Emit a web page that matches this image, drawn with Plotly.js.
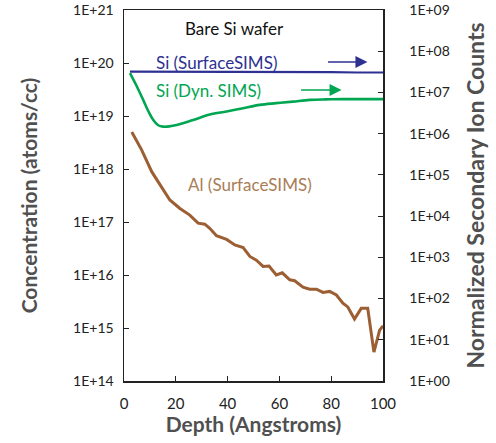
<!DOCTYPE html>
<html>
<head>
<meta charset="utf-8">
<script src="https://cdn.plot.ly/plotly-3.0.1.min.js"></script>
<style>html,body{margin:0;padding:0;background:#fff;}#chart{width:496px;height:443px;}</style>
</head>
<body>
<div id="chart"></div>
<script>
// Si (SurfaceSIMS) - right axis (normalized counts)
const siSurfDepth = [2.3, 10, 20, 30, 40, 50, 60, 70, 80, 90, 100];
const siSurfCounts = [3.2e7, 3.2e7, 3.2e7, 3.2e7, 3.15e7, 3.15e7, 3.1e7, 3.1e7, 3.1e7, 3.05e7, 3.05e7];

// Si (Dyn. SIMS) - right axis (normalized counts)
const siDynDepth = [2.3, 4.5, 7.4, 9.5, 11.3, 13.2, 15.1, 17.5, 20.3, 26.7, 33.1, 39.6, 46, 52.4, 58.8, 65.2, 71.7, 78, 84.4, 92, 100];
const siDynCounts = [2.95e7, 1.6e7, 6.6e6, 3.4e6, 2.15e6, 1.6e6, 1.48e6, 1.5e6, 1.62e6, 2.15e6, 2.9e6, 3.45e6, 4.15e6, 5.0e6, 5.5e6, 6.0e6, 6.6e6, 6.8e6, 6.9e6, 6.9e6, 6.9e6];

// Al (SurfaceSIMS) - left axis (atoms/cc)
const alDepth = [3.0, 6.8, 10.7, 13.9, 17.7, 21.6, 25.4, 28.6, 31.2, 33.1, 35.7, 39.6, 42.8, 46.0, 48.6, 51.1, 53.7, 56.0, 58.8, 61.1, 64.0, 65.9, 69.1, 71.7, 74.3, 76.8, 79.4, 82.0, 84.5, 86.4, 89.0, 91.6, 94.1, 96.5, 98.7, 100];
const alConc = [5.0e18, 2.3e18, 8.9e17, 5.0e17, 2.6e17, 1.8e17, 1.35e17, 9.5e16, 9.1e16, 7.6e16, 5.5e16, 4.7e16, 3.7e16, 3.3e16, 2.24e16, 1.9e16, 1.45e16, 1.48e16, 1.0e16, 1.1e16, 8.1e15, 7.8e15, 5.9e15, 5.4e15, 5.4e15, 4.7e15, 4.9e15, 4.2e15, 2.95e15, 2.5e15, 1.48e15, 2.35e15, 2.35e15, 3.5e14, 9.1e14, 1.1e15];

// Tick labels
const xTicks = [0, 20, 40, 60, 80, 100];
const leftTickVals = [1e14, 1e15, 1e16, 1e17, 1e18, 1e19, 1e20, 1e21];
const leftTickText = ['1E+14', '1E+15', '1E+16', '1E+17', '1E+18', '1E+19', '1E+20', '1E+21'];
const rightTickVals = [1e0, 1e1, 1e2, 1e3, 1e4, 1e5, 1e6, 1e7, 1e8, 1e9];
const rightTickText = ['1E+00', '1E+01', '1E+02', '1E+03', '1E+04', '1E+05', '1E+06', '1E+07', '1E+08', '1E+09'];

const FONT = 'Lato, "Open Sans", sans-serif';
const BLUE = '#2e3192', GREEN = '#00a651', BROWN = '#9c5f33', BROWN_TXT = '#a97d55';
const TITLE_GRAY = '#505050';

const traces = [
  {x: siSurfDepth, y: siSurfCounts, yaxis: 'y2', mode: 'lines', line: {color: BLUE, width: 2.2}, name: 'Si (SurfaceSIMS)'},
  {x: siDynDepth, y: siDynCounts, yaxis: 'y2', mode: 'lines', line: {color: GREEN, width: 2.6, shape: 'spline'}, name: 'Si (Dyn. SIMS)'},
  {x: alDepth, y: alConc, yaxis: 'y', mode: 'lines', line: {color: BROWN, width: 3}, name: 'Al (SurfaceSIMS)'}
];

const layout = {
  width: 496, height: 443,
  margin: {l: 124, r: 113, t: 10, b: 62},
  paper_bgcolor: '#fff', plot_bgcolor: '#fff',
  showlegend: false,
  font: {family: FONT, color: '#222', size: 14},
  xaxis: {
    range: [0, 100], tickvals: xTicks, ticks: 'inside', ticklen: 5, tickcolor: '#222',
    showline: true, linecolor: '#222', linewidth: 1.5, mirror: true, showgrid: false, zeroline: false,
    tickfont: {family: FONT, size: 15, color: '#222'}, ticklabelstandoff: 8,
    title: {text: 'Depth (Angstroms)', font: {family: FONT, size: 21, color: TITLE_GRAY, weight: 'bold'}, standoff: 3}
  },
  yaxis: {
    type: 'log', range: [14, 21], tickvals: leftTickVals, ticktext: leftTickText,
    ticks: 'inside', ticklen: 5, tickcolor: '#222', showline: true, linecolor: '#222', linewidth: 1.5,
    showgrid: false, zeroline: false, tickfont: {family: FONT, size: 14, color: '#222'}, ticklabelstandoff: 6,
    title: {text: 'Concentration (atoms/cc)', font: {family: FONT, size: 21, color: TITLE_GRAY, weight: 'bold'}, standoff: 30}
  },
  yaxis2: {
    type: 'log', range: [0, 9], overlaying: 'y', side: 'right', tickvals: rightTickVals, ticktext: rightTickText,
    ticks: 'inside', ticklen: 5, tickcolor: '#222', showline: true, linecolor: '#222', linewidth: 1.5,
    showgrid: false, zeroline: false, tickfont: {family: FONT, size: 14, color: '#222'}, ticklabelstandoff: 22,
    title: {text: 'Normalized Secondary Ion Counts', font: {family: FONT, size: 23, color: TITLE_GRAY, weight: 'bold'}, standoff: 19}
  },
  annotations: [
    {text: 'Bare Si wafer', x: 42.8, y: 8.54, xref: 'x', yref: 'y2', showarrow: false, font: {family: FONT, size: 17, color: '#111'}},
    {text: 'Si (SurfaceSIMS)', x: 35.9, y: 7.72, xref: 'x', yref: 'y2', showarrow: false, font: {family: FONT, size: 17, color: BLUE}},
    {text: 'Si (Dyn. SIMS)', x: 32.6, y: 7.04, xref: 'x', yref: 'y2', showarrow: false, font: {family: FONT, size: 17, color: GREEN}},
    {text: 'Al (SurfaceSIMS)', x: 48.7, y: 17.7, xref: 'x', yref: 'y', showarrow: false, font: {family: FONT, size: 17, color: BROWN_TXT}},
    {text: '', x: 94, y: 7.74, xref: 'x', yref: 'y2', ax: 78.2, ay: 7.74, axref: 'x', ayref: 'y2', showarrow: true, arrowhead: 2, arrowsize: 1.6, arrowwidth: 1.5, arrowcolor: BLUE},
    {text: '', x: 84, y: 7.06, xref: 'x', yref: 'y2', ax: 67.8, ay: 7.06, axref: 'x', ayref: 'y2', showarrow: true, arrowhead: 2, arrowsize: 1.6, arrowwidth: 1.5, arrowcolor: GREEN}
  ]
};

Plotly.newPlot('chart', traces, layout, {displayModeBar: false, staticPlot: true});
</script>
</body>
</html>
